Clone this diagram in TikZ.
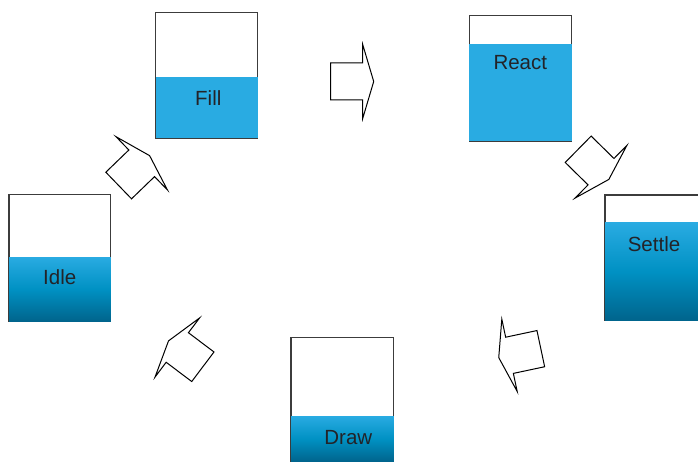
\documentclass[tikz,border=0pt]{standalone}
\usepackage{fontspec}
\setmainfont{Liberation Sans}
\definecolor{cyanfill}{RGB}{41,171,226}
\definecolor{darkteal}{RGB}{0,100,140}
\definecolor{frame}{RGB}{60,60,60}
\definecolor{txt}{RGB}{35,35,40}
\tikzset{
  boxframe/.style={draw=frame, line width=1.2pt, fill=white},
  flatblue/.style={fill=cyanfill},
  gradblue/.style={top color=cyanfill, bottom color=darkteal, middle color={rgb,255:red,0;green,145;blue,195}},
  lbl/.style={text=txt, font=\fontsize{20.5}{22}\selectfont, inner sep=0pt},
  arrowline/.style={draw=black, line width=1pt, fill=white, line join=miter},
  blockarrow/.pic={\path[arrowline] (-32,-18.5) -- (0,-18.5) -- (0,-37) -- (11,0) -- (0,37) -- (0,18.5) -- (-32,18.5) -- cycle;}
}
\begin{document}
\begin{tikzpicture}[x=1pt,y=-1pt]
\useasboundingbox (0,0) rectangle (698,462);
\clip (0,0) rectangle (698,462);
% Fill
\draw[boxframe] (155.7,12.3) rectangle (257.3,138.3);
\fill[flatblue] (155.7,76.7) rectangle (257.8,138.3);
\node[lbl] (fill) at (208.3,97.7) {Fill};
% React
\draw[boxframe] (469.3,15.3) rectangle (571.3,141.3);
\fill[flatblue] (469.3,43.7) rectangle (571.8,141.3);
\node[lbl] (react) at (520.3,63) {React};
% Settle
\draw[boxframe] (605,195) rectangle (707,320.7);
\shade[gradblue] (605,222.7) rectangle (707,320.7);
\node[lbl] (settle) at (654,244) {Settle};
% Draw
\draw[boxframe] (291,337.3) rectangle (393.3,461.7);
\shade[gradblue] (291,416) rectangle (393.8,461.7);
\node[lbl] (draw) at (348.3,437.3) {Draw};
% Idle
\draw[boxframe] (9,194.7) rectangle (110.3,321.3);
\shade[gradblue] (9,257) rectangle (110.8,321.3);
\node[lbl] (idle) at (59.7,277.3) {Idle};
% block arrows
\pic[rotate=0] at (362.7,81.5) {blockarrow};
\pic[rotate=-44.5] at (601,171.7) {blockarrow};
\pic[rotate=192] at (509.5,355.3) {blockarrow};
\pic[rotate=143] at (177.3,347.5) {blockarrow};
\pic[rotate=44] at (141.7,163.3) {blockarrow};
\end{tikzpicture}
\end{document}
